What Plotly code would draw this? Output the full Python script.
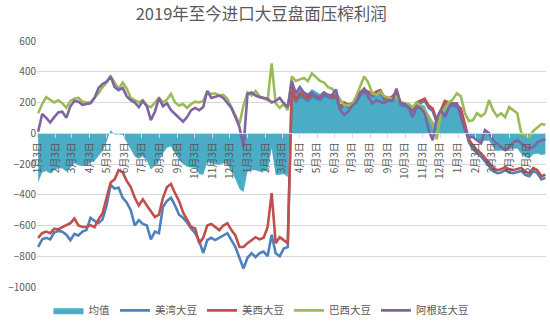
import pandas as pd
import plotly.graph_objects as go

# weekly observation dates (Fridays) from 2019-01-04 to 2021-06-04
dates = pd.date_range("2019-01-04", periods=127, freq="7D")

mean_avg = [-320, -256, -246, -262, -240, -228, -229, -248, -224, -194, -208, -215, -212, -188, -180, -148,
            -115, -56, 21, -8, -6, -12, -58, -101, -151, -166, -149, -179, -235, -211, -180, -131,
            -94, -86, -134, -172, -200, -218, -222, -225, -266, -270, -188, -196, -202, -205, -195, -202,
            -248, -298, -362, -382, -251, -241, -240, -249, -248, -243, -99, -272, -270, -265, -284, 325,
            254, 288, 275, 258, 288, 270, 255, 275, 258, 251, 258, 174, 172, 169, 186, 214,
            268, 301, 272, 238, 248, 255, 220, 220, 225, 264, 195, 190, 176, 145, 189, 190,
            179, 119, 80, 54, 141, 168, 188, 198, 202, 162, 64, -11, -30, -39, -59, -48,
            -49, -91, -115, -112, -116, -102, -102, -99, -134, -156, -165, -136, -131, -141, -136]

us_gulf = [-740, -690, -680, -690, -645, -635, -640, -660, -695, -655, -665, -640, -630, -550, -570, -585,
           -560, -470, -335, -360, -355, -420, -450, -500, -600, -565, -590, -600, -690, -640, -650, -480,
           -440, -420, -470, -530, -550, -580, -620, -650, -700, -780, -695, -680, -695, -680, -660, -650,
           -695, -740, -810, -880, -810, -780, -806, -780, -770, -800, -660, -780, -800, -750, -740, 290,
           200, 240, 230, 210, 240, 230, 215, 245, 235, 225, 235, 155, 185, 170, 180, 200,
           245, 265, 255, 240, 255, 265, 215, 210, 225, 255, 185, 180, 165, 145, 185, 200,
           210, 165, 145, 70, 135, 195, 185, 180, 170, 145, 45, -60, -100, -130, -150, -180,
           -215, -245, -260, -255, -240, -255, -260, -250, -245, -270, -280, -245, -260, -300, -290]

us_west = [-680, -650, -640, -650, -620, -625, -610, -595, -585, -555, -600, -610, -610, -598, -611, -560,
           -520, -420, -320, -300, -240, -255, -310, -350, -420, -470, -430, -470, -505, -545, -530, -420,
           -350, -330, -390, -440, -515, -560, -610, -620, -715, -680, -600, -590, -611, -630, -600, -585,
           -630, -665, -740, -740, -715, -695, -676, -690, -680, -611, -390, -715, -676, -695, -715, 300,
           215, 260, 245, 230, 255, 245, 230, 260, 250, 240, 250, 170, 200, 185, 195, 215,
           260, 280, 270, 255, 270, 280, 230, 225, 240, 270, 200, 195, 180, 160, 200, 215,
           225, 180, 160, 85, 150, 210, 200, 195, 185, 160, 60, -40, -80, -110, -130, -160,
           -195, -225, -240, -235, -220, -235, -240, -230, -225, -250, -260, -225, -240, -280, -270]

brazil = [130, 190, 235, 220, 200, 215, 195, 165, 210, 225, 230, 205, 200, 200, 230, 260,
          300, 330, 370, 330, 290, 330, 290, 230, 215, 200, 215, 180, 170, 200, 230, 200,
          220, 255, 200, 180, 190, 165, 190, 205, 200, 210, 270, 255, 260, 245, 250, 225,
          170, 110, 60, 180, 265, 245, 275, 240, 230, 215, 455, 195, 165, 190, 150, 370,
          340, 350, 360, 340, 390, 365, 340, 330, 300, 290, 260, 220, 185, 180, 190, 240,
          300, 370, 330, 260, 250, 270, 240, 230, 225, 240, 200, 195, 190, 170, 200, 180,
          150, 110, 60, -40, 130, 160, 200, 220, 260, 240, 130, 80, 85, 130, 110, 130,
          215, 150, 110, 130, 105, 170, 150, 130, 0, -15, -25, 15, 35, 60, 55]

argentina = [10, 125, 100, 70, 105, 135, 140, 100, 175, 210, 205, 185, 190, 195, 230, 295,
             320, 335, 370, 300, 280, 295, 240, 215, 200, 170, 210, 175, 85, 140, 230, 175,
             195, 150, 125, 100, 75, 105, 150, 165, 150, 170, 275, 230, 240, 245, 230, 200,
             165, 105, 40, -90, 255, 265, 245, 235, 230, 225, 200, 210, 230, 195, 170, 340,
             260, 300, 265, 250, 265, 240, 235, 265, 245, 250, 285, 150, 120, 140, 180, 200,
             265, 290, 235, 195, 215, 205, 195, 215, 210, 290, 195, 190, 170, 105, 170, 165,
             130, 20, -45, 100, 150, 105, 165, 195, 195, 105, 20, -25, -25, -45, -65, 20,
             0, -45, -70, -90, -110, -90, -60, -45, -65, -90, -95, -90, -60, -45, -40]

tick_dates = pd.date_range("2019-01-01", periods=29, freq="MS") + pd.Timedelta(days=2)
tick_labels = [f"{d.month}月3日" for d in tick_dates]

FONT = "Noto Sans CJK SC, Noto Sans, sans-serif"
TXT = "#595959"
GRID = "#D9D9D9"

fig = go.Figure()
fig.add_trace(go.Scatter(x=dates, y=mean_avg, name="均值", mode="lines",
                         line=dict(width=0, color="#4BACC6"), fill="tozeroy",
                         fillcolor="#4BACC6"))
series = [("美湾大豆", us_gulf, "#4F81BD"), ("美西大豆", us_west, "#C0504D"),
          ("巴西大豆", brazil, "#9BBB59"), ("阿根廷大豆", argentina, "#8064A2")]
for name, vals, col in series:
    fig.add_trace(go.Scatter(x=dates, y=vals, name=name, mode="lines",
                             line=dict(width=2.6, color=col)))

fig.update_layout(
    width=550, height=326, autosize=False,
    margin=dict(l=37, r=4, t=41, b=39, autoexpand=False),
    paper_bgcolor="white", plot_bgcolor="white",
    font=dict(family=FONT, color=TXT, size=10),
    title=dict(text="2019年至今进口大豆盘面压榨利润", x=0.475, xref="container",
               xanchor="center", y=0.955, yanchor="middle",
               font=dict(size=16.5, color=TXT, family=FONT)),
    showlegend=True,
    legend=dict(orientation="h", x=0.44, xanchor="center",
                y=-0.095, yanchor="middle", font=dict(size=10.5, color=TXT, family=FONT),
                itemwidth=30, bgcolor="rgba(0,0,0,0)"),
    xaxis=dict(type="date", range=["2019-01-02", "2021-06-05"], anchor="free",
               position=0.625, showgrid=False, showline=True, linecolor=GRID, linewidth=1,
               tickmode="array", tickvals=list(tick_dates), ticktext=tick_labels,
               tickangle=-90, ticks="outside", ticklen=4, tickcolor=GRID,
               tickfont=dict(size=10, color=TXT, family=FONT), zeroline=False,
               automargin=False),
    yaxis=dict(range=[-1000, 600], dtick=200, tick0=0, showgrid=True, gridcolor=GRID,
               gridwidth=1, zeroline=False, showline=False, ticks="",
               tickfont=dict(size=10, color=TXT, family=FONT), automargin=False),
)

fig.write_html("out.html")
